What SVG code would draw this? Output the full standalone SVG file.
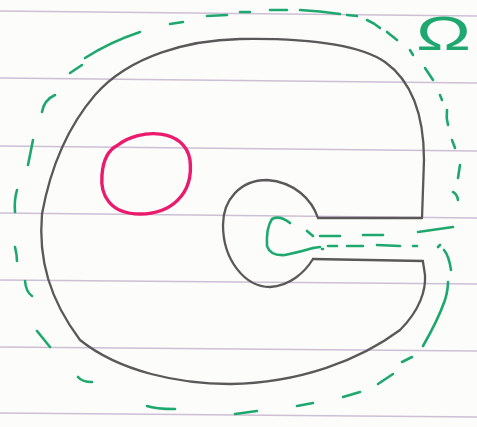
<svg xmlns="http://www.w3.org/2000/svg" width="477" height="427" viewBox="0 0 477 427">
<style>
.rule{stroke:#cdbfd4;stroke-width:1.5;fill:none}
.gray{stroke:#5a5858;stroke-width:2.3;fill:none;stroke-linecap:round;stroke-linejoin:round}
.green{stroke:#1ea86f;stroke-width:2.6;fill:none;stroke-linecap:round;stroke-linejoin:round}
.red{stroke:#eb1a6c;stroke-width:3.4;fill:none;stroke-linecap:round}
</style>
<rect width="477" height="427" fill="#fcfcfa"/>
<g id="paper">
<line class="rule" x1="0" y1="11" x2="477" y2="16"/>
<line class="rule" x1="0" y1="78" x2="477" y2="83"/>
<line class="rule" x1="0" y1="146" x2="477" y2="151"/>
<line class="rule" x1="0" y1="213" x2="477" y2="218"/>
<line class="rule" x1="0" y1="280" x2="477" y2="284"/>
<line class="rule" x1="0" y1="347" x2="477" y2="351"/>
<line class="rule" x1="0" y1="413" x2="477" y2="417"/>
</g>
<g id="domain">
<path class="gray" d="M422,218 L424,160 C424,110 410,80 385,62 C360,45 310,38 240,39 C190,40 130,55 95,95 C65,130 50,170 42,214 C38,260 50,300 80,340 C120,372 180,384 230,384 C300,383 360,360 400,330 C420,310 426,290 425,275 L423,262"/>
<path class="gray" d="M318,218 L422,218 M313,259 L423,261"/>
<path class="gray" d="M318,218 C312,200 295,182 267,180 C240,180 223,200 223,225 C223,260 245,287 270,287 C290,286 305,272 313,259"/>
</g>
<g id="hole">
<path class="red" d="M118,145 C140,128 185,128 190,160 C194,195 170,214 140,214 C110,214 100,195 102,175 C103,160 108,150 118,145"/>
</g>
<g id="boundary">
<path class="green" d="M42,112 Q44,100 55,95 M70,73 L82,65 M85,58 Q110,42 140,32 M170,24 L183,22 M207,16 L227,15 M240,12 L250,12 M270,10 L287,10 M300,10 Q320,11 340,14 M347,15 L357,16 M367,20 Q374,23 380,28 M387,32 L397,40 M410,50 L413,55 M425,68 L433,80 M440,95 L442,100 M447,110 Q446,118 448,125 M452,140 L455,148 M460,165 L458,178 M453,192 Q457,194 458,200"/>
<path class="green" d="M33,140 L28,165 M17,190 Q14,200 15,212 M15,247 Q17,255 17,261 M25,281 Q26,292 32,296 M37,331 L50,347 M78,377 Q82,382 92,382 M147,406 Q155,409 175,409 M235,414 L257,411 M297,406 L313,403 M343,397 L360,392 M378,384 L393,374 M402,362 L412,357 M423,346 Q438,320 445,300 Q448,290 448,282"/>
<path class="green" d="M438,247 L440,245 M444,250 Q449,256 451,270"/>
<path class="green" d="M290,223 Q280,215 272,219 Q266,228 267,246 Q270,256 285,255 Q300,252 313,248"/>
<path class="green" d="M313,248 L320,247 M322,249 L323,249 M328,246 L337,246 M347,246 L363,246 M377,245 L400,246 M413,246 L417,246"/>
<path class="green" d="M307,231 L313,236 M320,236 L340,236 M363,235 L383,235 M418,232 L453,227"/>
</g>
<g id="label">
<text transform="translate(416,50) scale(1.6,1.05)" font-family="Liberation Sans, sans-serif" font-size="46" fill="#1ea86f">Ω</text>
</g>
</svg>
